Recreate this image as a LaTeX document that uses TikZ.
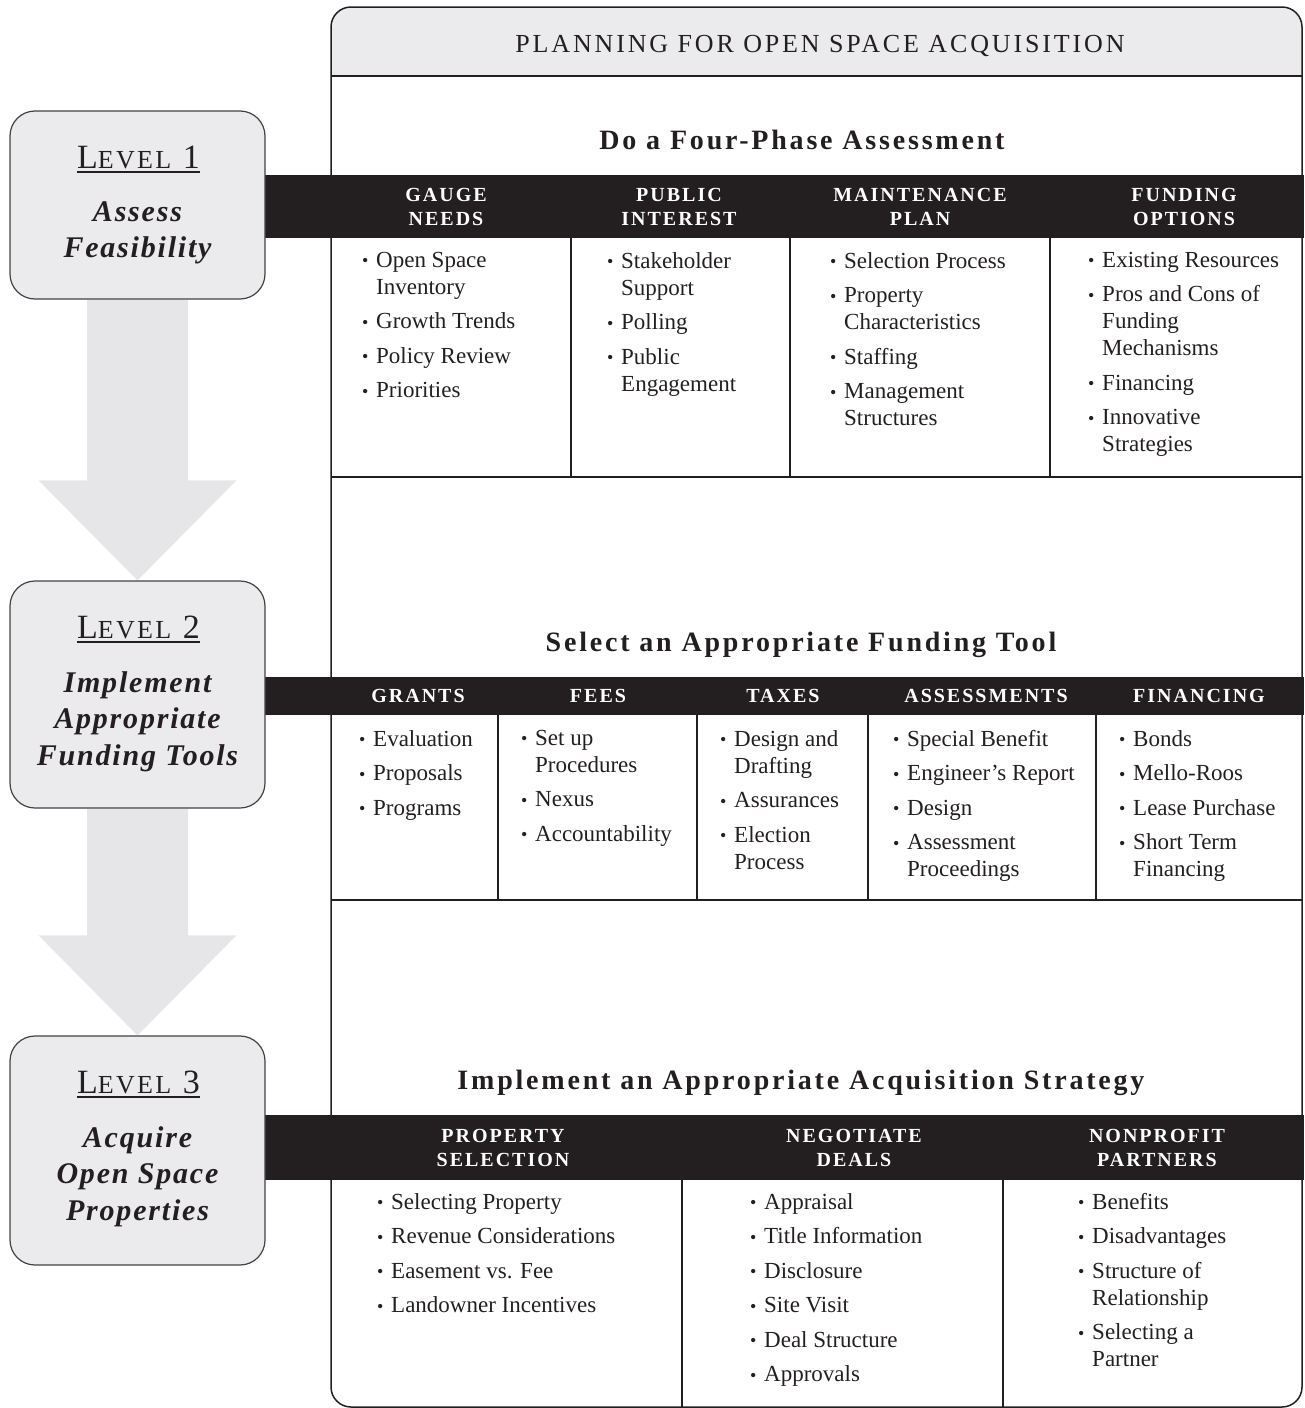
\documentclass[tikz,border=0pt]{standalone}
\usepackage{fontspec}
\setmainfont{Liberation Serif}
\usepackage{tikz}
\usetikzlibrary{positioning}
\pgfdeclarelayer{background}
\pgfsetlayers{background,main}
\definecolor{ink}{RGB}{35,31,32}
\definecolor{boxgray}{RGB}{235,235,237}
\definecolor{arrowgray}{RGB}{230,230,232}
\newcommand{\titlefont}{\fontsize{26}{30}\selectfont\addfontfeature{LetterSpace=11}}
\newcommand{\headfont}{\fontsize{28}{32}\selectfont\bfseries\addfontfeature{LetterSpace=10}}
\newcommand{\barfont}{\fontsize{20}{24}\selectfont\bfseries\addfontfeature{LetterSpace=10}}
\newcommand{\bodyfont}{\fontsize{23}{27}\selectfont}
\newcommand{\lvtitlefont}{\fontsize{34}{34}\selectfont\addfontfeature{LetterSpace=9}}
\newcommand{\lvsubfont}{\fontsize{30}{36.5}\selectfont\bfseries\itshape\addfontfeature{LetterSpace=6}}
\newcommand{\lvsmall}[1]{{\fontsize{26}{26}\selectfont #1}}
\newcommand{\bl}{\makebox[14pt][l]{\raisebox{0.5pt}{\fontsize{18}{18}\selectfont\textbullet}}}
\newcommand{\cn}{\hspace*{14pt}}
\newcommand{\nx}{\\[7.5pt]}

\begin{document}
\begin{tikzpicture}[x=1pt,y=-1pt,
						levelbox/.style={draw=ink!85, line width=1.2pt, fill=boxgray, rounded corners=25pt, minimum width=255pt, inner sep=0pt},
						leveltitle/.style={anchor=base, inner sep=0pt, text=ink, font=\lvtitlefont},
						levelsub/.style={anchor=north, inner sep=0pt, text=ink, align=center, font=\lvsubfont},
						sechead/.style={anchor=base, inner sep=0pt, text=ink, font=\headfont},
						barhead/.style={inner sep=0pt, text=white, align=center, font=\barfont},
						itemlist/.style={anchor=north west, inner sep=0pt, text=ink, align=left, font=\bodyfont},
						rule/.style={draw=ink, line width=1.2pt},
						]
						\useasboundingbox (0,0) rectangle (1304,1408);
						%Nodes
						\node[levelbox, minimum height=188pt]	(lv1)	at	(137.5,205)	{};
						\node[levelbox, minimum height=227pt]	(lv2)	at	(137.5,694.5)	{};
						\node[levelbox, minimum height=229pt]	(lv3)	at	(137.5,1150.5)	{};
						\node[leveltitle]	(lv1t)	at	(138.5,168)	{L\lvsmall{EVEL} 1};
						\node[leveltitle]	(lv2t)	at	(138.5,638)	{L\lvsmall{EVEL} 2};
						\node[leveltitle]	(lv3t)	at	(138.5,1093)	{L\lvsmall{EVEL} 3};
						\node[levelsub]	(lv1s)	at	(137.5,201)	{Assess\\Feasibility};
						\node[levelsub]	(lv2s)	at	(137.5,671)	{Implement\\Appropriate\\Funding Tools};
						\node[levelsub]	(lv3s)	at	(137.5,1126)	{Acquire\\Open Space\\Properties};
						\draw[ink, line width=1.2pt] ([yshift=-4pt]lv1t.base west) -- ([yshift=-4pt]lv1t.base east);
						\draw[ink, line width=1.2pt] ([yshift=-4pt]lv2t.base west) -- ([yshift=-4pt]lv2t.base east);
						\draw[ink, line width=1.2pt] ([yshift=-4pt]lv3t.base west) -- ([yshift=-4pt]lv3t.base east);
						
						\node[anchor=base, inner sep=0pt, text=ink, font=\titlefont]	(title)	at	(820,52)	{PLANNING FOR OPEN SPACE ACQUISITION};
						\node[sechead]	(sec1)	at	(802,149)	{Do a Four-Phase Assessment};
						\node[sechead]	(sec2)	at	(801,651)	{Select an Appropriate Funding Tool};
						\node[sechead]	(sec3)	at	(801,1089)	{Implement an Appropriate Acquisition Strategy};
						
						\node[barhead]	(h1a)	at	(446,206.5)	{GAUGE\\NEEDS};
						\node[barhead]	(h1b)	at	(679,206.5)	{PUBLIC\\INTEREST};
						\node[barhead]	(h1c)	at	(920,206.5)	{MAINTENANCE\\PLAN};
						\node[barhead]	(h1d)	at	(1184,206.5)	{FUNDING\\OPTIONS};
						\node[barhead]	(h2a)	at	(418,696)	{GRANTS};
						\node[barhead]	(h2b)	at	(598,696)	{FEES};
						\node[barhead]	(h2c)	at	(783,696)	{TAXES};
						\node[barhead]	(h2d)	at	(986,696)	{ASSESSMENTS};
						\node[barhead]	(h2e)	at	(1199,696)	{FINANCING};
						\node[barhead]	(h3a)	at	(503,1147.5)	{PROPERTY\\SELECTION};
						\node[barhead]	(h3b)	at	(854,1147.5)	{NEGOTIATE\\DEALS};
						\node[barhead]	(h3c)	at	(1157,1147.5)	{NONPROFIT\\PARTNERS};
						
						\node[itemlist]	(l1a)	at	(362,252)	{\bl Open Space\\\cn Inventory\nx\bl Growth Trends\nx\bl Policy Review\nx\bl Priorities};
						\node[itemlist]	(l1b)	at	(607,252)	{\bl Stakeholder\\\cn Support\nx\bl Polling\nx\bl Public\\\cn Engagement};
						\node[itemlist]	(l1c)	at	(830,252)	{\bl Selection Process\nx\bl Property\\\cn Characteristics\nx\bl Staffing\nx\bl Management\\\cn Structures};
						\node[itemlist]	(l1d)	at	(1088,252)	{\bl Existing Resources\nx\bl Pros and Cons of\\\cn Funding\\\cn Mechanisms\nx\bl Financing\nx\bl Innovative\\\cn Strategies};
						\node[itemlist]	(l2a)	at	(359,730)	{\bl Evaluation\nx\bl Proposals\nx\bl Programs};
						\node[itemlist]	(l2b)	at	(521,730)	{\bl Set up\\\cn Procedures\nx\bl Nexus\nx\bl Accountability};
						\node[itemlist]	(l2c)	at	(720,730)	{\bl Design and\\\cn Drafting\nx\bl Assurances\nx\bl Election\\\cn Process};
						\node[itemlist]	(l2d)	at	(893,730)	{\bl Special Benefit\nx\bl Engineer’s Report\nx\bl Design\nx\bl Assessment\\\cn Proceedings};
						\node[itemlist]	(l2e)	at	(1119,730)	{\bl Bonds\nx\bl Mello-Roos\nx\bl Lease Purchase\nx\bl Short Term\\\cn Financing};
						\node[itemlist]	(l3a)	at	(377,1193)	{\bl Selecting Property\nx\bl Revenue Considerations\nx\bl Easement vs. Fee\nx\bl Landowner Incentives};
						\node[itemlist]	(l3b)	at	(750,1193)	{\bl Appraisal\nx\bl Title Information\nx\bl Disclosure\nx\bl Site Visit\nx\bl Deal Structure\nx\bl Approvals};
						\node[itemlist]	(l3c)	at	(1078,1193)	{\bl Benefits\nx\bl Disadvantages\nx\bl Structure of\\\cn Relationship\nx\bl Selecting a\\\cn Partner};
						
						%Frame and table rules
						\draw[ink, line width=1.5pt, rounded corners=20pt] (331,7) rectangle (1302,1407);
						\draw[rule] (331,76) -- (1302,76);
						\draw[rule] (331,477) -- (1302,477);
						\draw[rule] (331,900) -- (1302,900);
						\foreach \x in {571,790,1050} \draw[rule] (\x,238) -- (\x,477);
						\foreach \x in {498,697,868,1096} \draw[rule] (\x,715) -- (\x,900);
						\foreach \x in {682,1003} \draw[rule] (\x,1180) -- (\x,1407);
						
						\begin{pgfonlayer}{background}
						\fill[arrowgray] ([xshift=-50.5pt]lv1.south) -- ([xshift=-50.5pt,yshift=100pt]lv2.north) -- ([xshift=-99pt,yshift=100pt]lv2.north) -- (lv2.north) -- ([xshift=99pt,yshift=100pt]lv2.north) -- ([xshift=50.5pt,yshift=100pt]lv2.north) -- ([xshift=50.5pt]lv1.south) -- cycle;
						\fill[arrowgray] ([xshift=-50.5pt]lv2.south) -- ([xshift=-50.5pt,yshift=100pt]lv3.north) -- ([xshift=-99pt,yshift=100pt]lv3.north) -- (lv3.north) -- ([xshift=99pt,yshift=100pt]lv3.north) -- ([xshift=50.5pt,yshift=100pt]lv3.north) -- ([xshift=50.5pt]lv2.south) -- cycle;
						\begin{scope}
						\clip (331,7) rectangle (1302,76);
						\fill[boxgray, rounded corners=20pt] (331,7) rectangle (1302,1407);
						\end{scope}
						\fill[ink] (265,175) rectangle (1304,238);
						\fill[ink] (265,677) rectangle (1304,715);
						\fill[ink] (265,1115) rectangle (1304,1180);
						\end{pgfonlayer}
					\end{tikzpicture}
\end{document}
